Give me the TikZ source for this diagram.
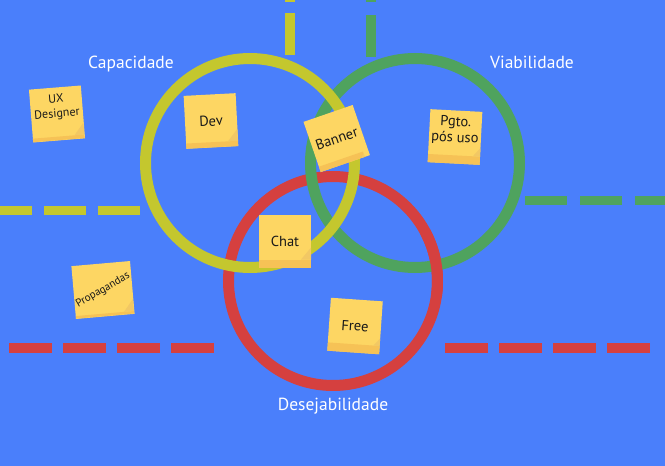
\documentclass[tikz,border=0pt]{standalone}
\usepackage{fontspec}
\setmainfont{PT Sans}
\usepackage{tikz}
\usetikzlibrary{positioning}
\definecolor{board}{RGB}{74,127,251}
\definecolor{capcol}{RGB}{196,199,46}
\definecolor{viacol}{RGB}{79,163,94}
\definecolor{descol}{RGB}{213,64,63}
\definecolor{notefill}{RGB}{253,214,99}
\definecolor{notestrip}{RGB}{246,194,86}
\definecolor{notefold}{RGB}{242,200,100}
\definecolor{notetext}{RGB}{25,25,25}
\tikzstyle{ring}=[circle, minimum size=209pt, line width=11pt, inner sep=0pt]
\tikzstyle{fence}=[line width=9.5pt]
\tikzstyle{area}=[text=white, font=\fontsize{17.5}{21}\selectfont]
\tikzstyle{postit}=[rectangle, fill=notefill, minimum width=52pt, minimum height=53pt, inner sep=0pt, align=center, text=notetext, font=\fontsize{14.5}{16}\selectfont,
    path picture={
        \fill[notestrip] (path picture bounding box.south west) rectangle ([yshift=8pt]path picture bounding box.south east);
        \fill[notefold] ([xshift=-10pt,yshift=8pt]path picture bounding box.south east) -- ([yshift=20pt]path picture bounding box.south east) -- ([yshift=8pt]path picture bounding box.south east) -- cycle;
    }]

\begin{document}
\begin{tikzpicture}[x=1pt, y=-1pt, node distance=4pt]
    \path[use as bounding box, fill=board] (0,0) rectangle (665,466);

    \coordinate (capleft) at (0,210.5);
    \coordinate (capstop) at (140,210.5);
    \coordinate (captop) at (290,0);
    \coordinate (capfoot) at (290,55);
    \coordinate (viatop) at (371,0);
    \coordinate (viafoot) at (371,57);
    \coordinate (viastart) at (525,200.5);
    \coordinate (viaright) at (665,200.5);
    \coordinate (desleft) at (9,348);
    \coordinate (desstop) at (216,348);
    \coordinate (desstart) at (445,348);
    \coordinate (desright) at (652,348);

    \draw[fence, capcol, dash pattern=on 42pt off 12pt] (capstop) -- (capleft);
    \draw[fence, capcol, line width=10pt, dash pattern=on 42pt off 11pt] (capfoot) -- (captop);
    \draw[fence, viacol, line width=10pt, dash pattern=on 42pt off 13pt] (viafoot) -- (viatop);
    \draw[fence, viacol, dash pattern=on 42pt off 13pt] (viastart) -- (viaright);
    \draw[fence, descol, line width=10pt, dash pattern=on 43pt off 11pt] (desleft) -- (desstop);
    \draw[fence, descol, line width=10pt, dash pattern=on 43pt off 11pt] (desstart) -- (desright);

    \node (des) [ring, draw=descol] at (333,281) {};
    \node (via) [ring, draw=viacol] at (415,163) {};
    \node (cap) [ring, draw=capcol] at (250,163) {};
    \draw[descol, line width=11pt] (des.center) ++(-28:104.5) arc[start angle=-28, end angle=8, radius=104.5];

    \node (caplabel) [area] at (131,64) {Capacidade};
    \node (vialabel) [area] at (532,62) {Viabilidade};
    \node (deslabel) [area, below=of des] {Desejabilidade};

    \node (ux) [postit, rotate=4.6, font=\fontsize{12}{14.5}\selectfont, text depth=16pt] at (57,114) {UX\\Designer};
    \node (dev) [postit, rotate=3] at (211,121) {Dev};
    \node (banner) [postit, rotate=19] at (336.7,138.5) {Banner};
    \node (pgto) [postit, rotate=-3, text depth=16pt] at (455,137) {Pgto.\\pós uso};
    \node (chat) [postit] at (285,241) {Chat};
    \node (ads) [postit, rotate=5, font=\fontsize{11}{12}\selectfont] at (103,290) {\rotatebox{25}{Propagandas}};
    \node (free) [postit, rotate=-4] at (355,326) {Free};
\end{tikzpicture}
\end{document}
